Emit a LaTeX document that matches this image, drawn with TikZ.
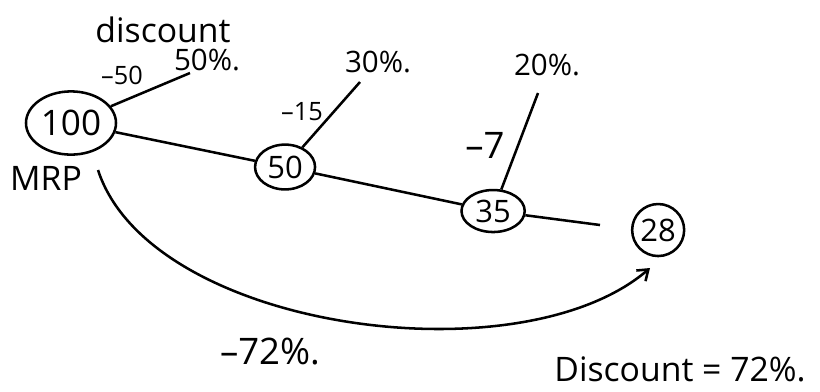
\documentclass[tikz,border=0pt]{standalone}
\usepackage{fontspec}
\setmainfont{Open Sans}
\usetikzlibrary{shapes.geometric,arrows.meta,positioning}

\begin{document}
\begin{tikzpicture}[x=0.025cm,y=-0.025cm,line width=1.8pt,on grid,
      >={Straight Barb[length=7pt,width=10pt]},
      price node/.style={ellipse,draw,inner sep=0pt,font=\fontsize{22}{24}\selectfont},
      cut label/.style={font=\fontsize{18}{20}\selectfont},
      rate label/.style={font=\fontsize{21}{23}\selectfont},
      big label/.style={font=\fontsize{26}{28}\selectfont}]
      \useasboundingbox (0,0) rectangle (820,391);

      \node[price node,minimum width=2.25cm,minimum height=1.58cm,font=\fontsize{25}{27}\selectfont] (n100) at (71,123) {100};
      \node[price node,minimum width=1.5cm,minimum height=1.12cm] (n50) [below right=1.1cm and 5.35cm of n100] {50};
      \node[price node,minimum width=1.58cm,minimum height=1.05cm] (n35) [below right=1.1cm and 5.2cm of n50] {35};
      \node[price node,circle,minimum size=1.3cm] (n28) [below right=0.475cm and 4.125cm of n35] {28};

      % free ends of the branches
      \coordinate (e50) at (190,73);
      \coordinate (e30) at (360,82);
      \coordinate (e20) at (538,93);
      \coordinate (e35) at (600,225);
      \coordinate (arcfrom) at (98,170);
      \coordinate (arcto) at (650,268);

      \node[big label,font=\fontsize{24}{26}\selectfont] (mrp) at (46,178) {MRP};
      \node[rate label,font=\fontsize{24}{26}\selectfont] (disc) at (163,30) {discount};
      \node[rate label] (r50) at (207,60) {50\%.};
      \node[rate label] (r30) at (378,62) {30\%.};
      \node[rate label] (r20) at (547,65) {20\%.};
      \node[cut label] (c50) at (122,75) {--50};
      \node[cut label] (c15) at (302,112) {--15};
      \node[big label] (c7) at (485,145) {--7};
      \node[big label] (c72) at (270,352) {--72\%.};
      \node[big label,font=\fontsize{24}{26}\selectfont] (total) at (680,369) {Discount = 72\%.};

      \path[draw]
        (n100) edge (e50)
        (n100) edge (n50)
        (n50) edge (e30)
        (n50) edge (n35)
        (n35) edge (e20)
        (n35) edge (e35);

      \draw[->] (arcfrom) .. controls (150,330) and (520,380) .. (arcto);
    \end{tikzpicture}
\end{document}
